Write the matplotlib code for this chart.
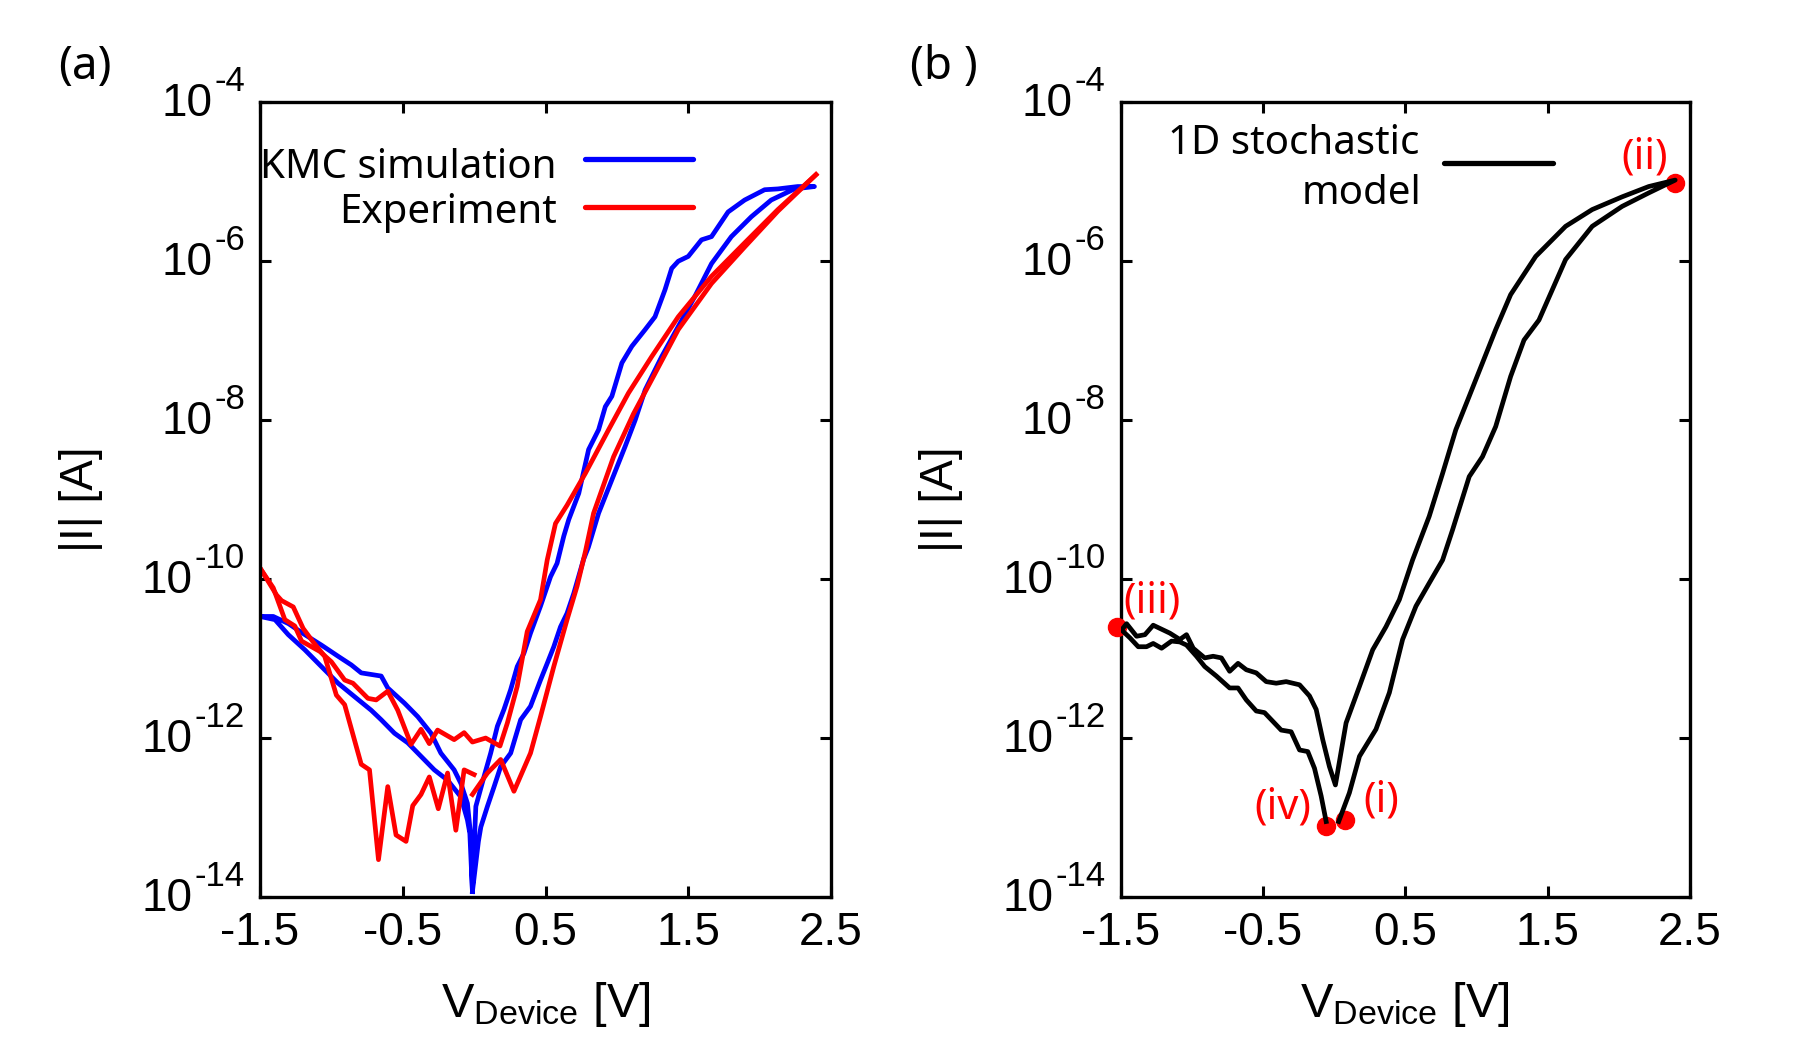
import matplotlib
matplotlib.use("Agg")
import matplotlib.pyplot as plt
import matplotlib.transforms as mtransforms
from matplotlib.ticker import NullLocator

plt.rcParams["font.family"] = ["Liberation Sans", "DejaVu Sans"]
plt.rcParams["mathtext.fontset"] = "custom"
plt.rcParams["mathtext.rm"] = "Liberation Sans"
plt.rcParams["mathtext.it"] = "Liberation Sans:italic"
plt.rcParams["mathtext.bf"] = "Liberation Sans:bold"
plt.rcParams["axes.unicode_minus"] = False

TEXT_FONT = ["Noto Sans", "DejaVu Sans"]

# ---------------- axis settings ----------------
x_ticks = [-1.5, -0.5, 0.5, 1.5, 2.5]
x_tick_labels = ["-1.5", "-0.5", "0.5", "1.5", "2.5"]
y_exponents = [-14, -12, -10, -8, -6, -4]

# ---------------- (a) KMC simulation, sweep 0 -> +2.4 -> 0 -> -1.5 -> 0 ----------------
kmc_v = [-0.012, 0.03, 0.047, 0.093, 0.140, 0.186, 0.256, 0.326, 0.395, 0.465,
         0.512, 0.558, 0.605, 0.651, 0.698, 0.767, 0.80, 0.872, 0.965, 1.058,
         1.128, 1.198, 1.267, 1.314, 1.430, 1.547, 1.663, 1.802, 1.942, 2.081,
         2.244, 2.384,
         2.267, 2.128, 2.035, 1.895, 1.779, 1.663, 1.593, 1.500, 1.430, 1.384,
         1.337, 1.267, 1.198, 1.105, 1.035, 0.965, 0.919, 0.872, 0.802, 0.733,
         0.663, 0.628, 0.581, 0.535, 0.465, 0.395, 0.349, 0.302, 0.256, 0.209,
         0.163, 0.116, 0.070, 0.012, -0.005, -0.012,
         -0.03, -0.047, -0.093, -0.186, -0.279, -0.372, -0.465, -0.558, -0.651,
         -0.721, -0.837, -0.953, -1.070, -1.186, -1.302, -1.395, -1.5,
         -1.407, -1.300, -1.186, -1.070, -0.953, -0.860, -0.791, -0.651, -0.605,
         -0.488, -0.395, -0.302, -0.233, -0.140, -0.093, -0.047, -0.02, -0.012]
kmc_i = [1.17e-14, 5.0e-14, 7.6e-14, 1.38e-13, 2.45e-13, 4.37e-13, 6.46e-13, 1.70e-12, 2.51e-12, 5.37e-12,
         8.71e-12, 1.41e-11, 2.51e-11, 3.72e-11, 6.61e-11, 1.78e-10, 2.51e-10, 6.76e-10, 1.78e-9, 4.68e-9,
         1.0e-8, 2.40e-8, 4.27e-8, 6.31e-8, 1.51e-7, 3.63e-7, 9.33e-7, 2.04e-6, 3.63e-6, 5.89e-6,
         8.13e-6, 8.71e-6,
         8.71e-6, 8.13e-6, 7.94e-6, 5.89e-6, 4.17e-6, 2.04e-6, 1.86e-6, 1.15e-6, 1.0e-6, 8.13e-7,
         4.37e-7, 2.0e-7, 1.38e-7, 8.51e-8, 5.25e-8, 2.0e-8, 1.48e-8, 7.59e-9, 4.27e-9, 1.20e-9,
         5.62e-10, 3.47e-10, 1.58e-10, 1.07e-10, 4.57e-11, 2.09e-11, 1.17e-11, 7.94e-12, 4.07e-12, 2.29e-12,
         1.41e-12, 6.46e-13, 3.31e-13, 1.38e-13, 2.5e-14, 1.17e-14,
         6.31e-14, 9.33e-14, 1.82e-13, 2.95e-13, 3.98e-13, 5.89e-13, 8.71e-13, 1.15e-12, 1.70e-12,
         2.24e-12, 3.31e-12, 4.90e-12, 7.94e-12, 1.29e-11, 2.0e-11, 3.09e-11, 3.39e-11,
         3.39e-11, 2.75e-11, 2.0e-11, 1.48e-11, 1.07e-11, 8.32e-12, 6.61e-12, 6.03e-12, 4.27e-12,
         2.75e-12, 1.86e-12, 1.15e-12, 6.46e-13, 3.98e-13, 2.69e-13, 1.51e-13, 5.0e-14, 1.17e-14]

# ---------------- (a) Experiment ----------------
# 0 -> +2.4
exp_set_v = [-0.012, 0.093, 0.186, 0.279, 0.395, 0.465, 0.558, 0.651, 0.721, 0.78,
             0.837, 0.977, 1.116, 1.256, 1.430, 1.663, 1.895, 2.128, 2.395]
exp_set_i = [1.95e-13, 3.63e-13, 5.37e-13, 2.14e-13, 6.46e-13, 1.86e-12, 7.94e-12, 3.09e-11, 8.13e-11, 2.24e-10,
             6.76e-10, 3.47e-9, 1.20e-8, 3.55e-8, 1.38e-7, 5.25e-7, 1.51e-6, 4.27e-6, 1.23e-5]
# +2.4 -> -1.5
exp_reset_v = [2.395, 2.128, 1.895, 1.663, 1.430, 1.244, 1.081, 0.942, 0.779, 0.651,
               0.570, 0.512, 0.465, 0.372, 0.302, 0.233, 0.181, 0.081, -0.012, -0.070,
               -0.140, -0.256, -0.314, -0.372, -0.442, -0.535, -0.605, -0.686, -0.744, -0.849,
               -0.907, -1.0, -1.081, -1.209, -1.256, -1.326, -1.407, -1.5]
exp_reset_i = [1.23e-5, 4.47e-6, 1.70e-6, 6.46e-7, 2.0e-7, 6.31e-8, 2.19e-8, 7.59e-9, 2.14e-9, 8.51e-10,
               5.01e-10, 1.74e-10, 5.50e-11, 2.19e-11, 4.47e-12, 1.55e-12, 7.94e-13, 1.0e-12, 8.91e-13, 1.17e-12,
               9.55e-13, 1.26e-12, 8.51e-13, 1.29e-12, 8.32e-13, 2.24e-12, 3.89e-12, 3.02e-12, 3.16e-12, 4.90e-12,
               5.37e-12, 9.12e-12, 1.23e-11, 1.66e-11, 2.57e-11, 3.09e-11, 7.76e-11, 1.38e-10]
# -1.5 -> 0
exp_back_v = [-1.5, -1.384, -1.349, -1.267, -1.198, -1.128, -1.047, -1.012, -0.965, -0.907,
              -0.791, -0.733, -0.670, -0.605, -0.547, -0.477, -0.430, -0.372, -0.314, -0.251,
              -0.186, -0.128, -0.070, 0.0]
exp_back_i = [1.38e-10, 6.31e-11, 5.37e-11, 4.47e-11, 2.40e-11, 1.62e-11, 1.07e-11, 6.61e-12, 3.47e-12, 2.63e-12,
              4.68e-13, 3.98e-13, 2.95e-14, 2.45e-13, 6.03e-14, 5.01e-14, 1.41e-13, 1.95e-13, 3.24e-13, 1.29e-13,
              3.63e-13, 6.92e-14, 3.98e-13, 3.47e-13]

# ---------------- (b) 1D stochastic model, (i) -> (ii) -> (iii) -> (iv) ----------------
model_v = [0.032, 0.107, 0.178, 0.294, 0.388, 0.481, 0.575, 0.668, 0.762, 0.832,
           0.949, 1.042, 1.135, 1.240, 1.334, 1.439, 1.626, 1.813, 2.023, 2.210, 2.396,
           2.210, 2.023, 1.813, 1.626, 1.416, 1.240, 1.135, 1.042, 0.949, 0.855,
           0.762, 0.668, 0.551, 0.458, 0.364, 0.271, 0.178, 0.084, 0.009,
           -0.033, -0.080, -0.126, -0.173, -0.243, -0.337, -0.407, -0.477, -0.547, -0.617,
           -0.675, -0.734, -0.792, -0.850, -0.909, -0.990, -1.037, -1.084, -1.154, -1.271,
           -1.329, -1.388, -1.458, -1.493,
           -1.434, -1.376, -1.318, -1.271, -1.212, -1.142, -1.084, -1.037, -0.967, -0.909,
           -0.827, -0.734, -0.675, -0.617, -0.547, -0.489, -0.430, -0.372, -0.302, -0.243,
           -0.185, -0.138, -0.091, -0.056]
model_i = [8.91e-14, 2.04e-13, 5.89e-13, 1.29e-12, 3.72e-12, 1.74e-11, 4.57e-11, 8.91e-11, 1.74e-10, 4.17e-10,
           1.95e-9, 3.47e-9, 8.32e-9, 3.55e-8, 1.02e-7, 1.82e-7, 1.05e-6, 2.75e-6, 4.90e-6, 7.24e-6, 1.05e-5,
           8.71e-6, 6.46e-6, 4.47e-6, 2.75e-6, 1.15e-6, 3.80e-7, 1.38e-7, 5.25e-8, 2.0e-8, 7.59e-9,
           2.14e-9, 6.17e-10, 1.74e-10, 5.50e-11, 2.51e-11, 1.29e-11, 4.47e-12, 1.55e-12, 2.57e-13,
           4.37e-13, 9.55e-13, 2.29e-12, 3.39e-12, 4.68e-12, 5.13e-12, 4.90e-12, 5.13e-12, 6.61e-12, 7.24e-12,
           8.71e-12, 6.92e-12, 1.02e-11, 1.07e-11, 1.02e-11, 1.35e-11, 2.0e-11, 1.74e-11, 2.09e-11, 2.63e-11,
           2.0e-11, 1.91e-11, 2.75e-11, 2.29e-11,
           1.82e-11, 1.41e-11, 1.41e-11, 1.55e-11, 1.35e-11, 1.66e-11, 1.62e-11, 1.48e-11, 1.07e-11, 7.94e-12,
           6.03e-12, 4.27e-12, 4.27e-12, 3.02e-12, 2.19e-12, 2.09e-12, 1.62e-12, 1.26e-12, 1.20e-12, 7.08e-13,
           6.76e-13, 4.17e-13, 1.86e-13, 8.91e-14]

# switching states marked on the model curve
state_labels = ["(i)", "(ii)", "(iii)", "(iv)"]
state_v = [0.079, 2.392, -1.527, -0.058]
state_i = [9.3e-14, 9.7e-6, 2.5e-11, 7.9e-14]
state_offsets = [(36, 20), (-30, 25), (35, 25), (-43, 18)]   # label offsets in pixels

RED = "#ff0000"
BLUE = "#0000ff"
LW = 3.4

fig = plt.figure(figsize=(17.93, 10.37), dpi=100)
W, H = 1793.0, 1037.0
ax_a = fig.add_axes([260 / W, 140 / H, 571 / W, 794.7 / H])
ax_b = fig.add_axes([1120.6 / W, 140 / H, 569.4 / W, 794.7 / H])


def style_axes(ax):
    ax.set_yscale("log")
    ax.set_xlim(-1.5, 2.5)
    ax.set_ylim(1e-14, 1e-4)
    ax.set_xticks(x_ticks, labels=x_tick_labels)
    ax.set_yticks([10.0 ** e for e in y_exponents])
    ax.yaxis.set_minor_locator(NullLocator())
    ax.xaxis.set_minor_locator(NullLocator())
    ax.tick_params(which="major", direction="in", length=8, width=2.2,
                   top=True, right=True, labelleft=False, labelsize=33, pad=10)
    for sp in ax.spines.values():
        sp.set_linewidth(2.4)
    # decade labels written as "10" with a raised exponent
    trans = mtransforms.blended_transform_factory(ax.transAxes, ax.transData)
    for e in y_exponents:
        sup = ax.annotate(f"-{abs(e)}", xy=(0, 10.0 ** e), xycoords=trans,
                          xytext=(-15, 11), textcoords="offset pixels",
                          ha="right", va="baseline", fontsize=25)
        ax.annotate("10", xy=(0, 10.0 ** e), xycoords=(sup, trans),
                    xytext=(-2, -14), textcoords="offset pixels",
                    ha="right", va="baseline", fontsize=33)
    ax.set_xlabel(r"V$_{\mathrm{Device}}$ [V]", fontsize=35)
    ax.xaxis.label.set_va("baseline")
    ax.xaxis.set_label_coords(0.5, -0.151)
    ax.set_ylabel("|I| [A]", fontsize=33)
    ax.yaxis.label.set_va("center")


style_axes(ax_a)
style_axes(ax_b)
ax_a.yaxis.set_label_coords(-0.3135, 0.5)
ax_b.yaxis.set_label_coords(-0.316, 0.5)

# ---- panel (a)
ax_a.plot(kmc_v, kmc_i, color=BLUE, lw=LW, solid_joinstyle="round")
ax_a.plot(exp_set_v, exp_set_i, color=RED, lw=LW, solid_joinstyle="round")
ax_a.plot(exp_reset_v, exp_reset_i, color=RED, lw=LW, solid_joinstyle="round")
ax_a.plot(exp_back_v, exp_back_i, color=RED, lw=LW, solid_joinstyle="round")

ax_a.text(0.520, 0.9047, "KMC simulation", transform=ax_a.transAxes,
          ha="right", va="baseline", fontsize=29, family=TEXT_FONT)
ax_a.text(0.520, 0.848, "Experiment", transform=ax_a.transAxes,
          ha="right", va="baseline", fontsize=29, family=TEXT_FONT)
ax_a.plot([0.569, 0.758], [0.9287, 0.9287], transform=ax_a.transAxes,
          color=BLUE, lw=3.8, solid_capstyle="round")
ax_a.plot([0.569, 0.758], [0.8683, 0.8683], transform=ax_a.transAxes,
          color=RED, lw=3.8, solid_capstyle="round")

# ---- panel (b)
ax_b.plot(state_v, state_i, "o", color=RED, ms=13, clip_on=False, zorder=3)
ax_b.plot(model_v, model_i, color="black", lw=LW, solid_joinstyle="round", zorder=4)
for lab, v, i, off in zip(state_labels, state_v, state_i, state_offsets):
    ax_b.annotate(lab, xy=(v, i), xytext=off, textcoords="offset pixels",
                  ha="center", va="center", color=RED, fontsize=30,
                  family=TEXT_FONT, annotation_clip=False)

ax_b.text(0.524, 0.9354, "1D stochastic", transform=ax_b.transAxes,
          ha="right", va="baseline", fontsize=29, family=TEXT_FONT)
ax_b.text(0.528, 0.8725, "model", transform=ax_b.transAxes,
          ha="right", va="baseline", fontsize=29, family=TEXT_FONT)
ax_b.plot([0.568, 0.760], [0.9241, 0.9241], transform=ax_b.transAxes,
          color="black", lw=3.8, solid_capstyle="round")

fig.text(85 / W, 1 - 67 / H, "(a)", ha="center", va="center", fontsize=33, family=TEXT_FONT)
fig.text(944 / W, 1 - 67 / H, "(b )", ha="center", va="center", fontsize=33, family=TEXT_FONT)

fig.savefig("out.png", dpi=100)
